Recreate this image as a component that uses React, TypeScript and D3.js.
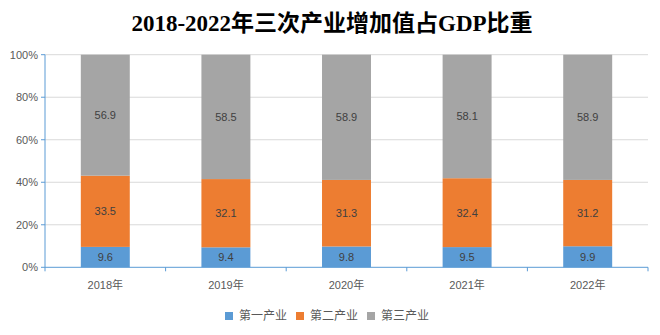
import React from "react";
import * as d3 from "d3";

const categories = ["2018年", "2019年", "2020年", "2021年", "2022年"];
const primary = [9.6, 9.4, 9.8, 9.5, 9.9];
const secondary = [33.5, 32.1, 31.3, 32.4, 31.2];
const tertiary = [56.9, 58.5, 58.9, 58.1, 58.9];
const seriesNames = ["第一产业", "第二产业", "第三产业"];
const colors = ["#5B9BD5", "#ED7D31", "#A5A5A5"];
const yTicks = [0, 20, 40, 60, 80, 100];

export default function App() {
  const W = 660, H = 335;
  const left = 45, right = 648, top = 54.7, bottom = 267.3;
  const x = d3.scaleBand().domain(categories).range([left, right]).paddingInner(0.594).paddingOuter(0.297);
  const y = d3.scaleLinear().domain([0, 100]).range([bottom, top]);
  const rows = categories.map((c, i) => ({ cat: c, s0: primary[i], s1: secondary[i], s2: tertiary[i] }));
  const stack = d3.stack<any>().keys(["s0", "s1", "s2"]).offset(d3.stackOffsetExpand);
  const stacked = stack(rows);
  const step = (right - left) / categories.length;
  const sans = "'Liberation Sans', 'Noto Sans CJK SC', sans-serif";
  const legendX = [225, 296, 367];
  return (
    <svg width={W} height={H} style={{ position: "absolute", left: 0, top: 0, background: "#fff" }}>
      <text x={332} y={31} textAnchor="middle" fontSize={23} fontWeight="bold"
        fontFamily="'Liberation Serif', 'Noto Sans CJK SC', serif" fill="#000">
        2018-2022年三次产业增加值占GDP比重
      </text>
      {yTicks.map(t => (
        <g key={t}>
          {t > 0 && <line x1={left} x2={right} y1={y(t)} y2={y(t)} stroke="#D9D9D9" strokeWidth={1} />}
          <line x1={left - 4} x2={left} y1={y(t)} y2={y(t)} stroke="#5B9BD5" strokeWidth={1} />
          <text x={38} y={y(t) + 4} textAnchor="end" fontSize={11} fill="#595959" fontFamily={sans}>{t}%</text>
        </g>
      ))}
      {stacked.map((layer, si) => (
        <g key={si}>
          {layer.map((d: any, i) => {
            const y0 = y(d[0] * 100), y1 = y(d[1] * 100);
            const val = [primary, secondary, tertiary][si][i];
            return (
              <g key={i}>
                <rect x={x(categories[i])} width={x.bandwidth()} y={y1} height={y0 - y1} fill={colors[si]} />
                <text x={x(categories[i])! + x.bandwidth() / 2} y={(y0 + y1) / 2 + 4} textAnchor="middle"
                  fontSize={11} fill="#404040" fontFamily={sans}>{val.toFixed(1)}</text>
              </g>
            );
          })}
        </g>
      ))}
      <line x1={left} x2={left} y1={top} y2={bottom} stroke="#5B9BD5" strokeWidth={1} />
      <line x1={left} x2={right} y1={bottom} y2={bottom} stroke="#5B9BD5" strokeWidth={1} />
      {d3.range(categories.length + 1).map(i => (
        <line key={i} x1={left + i * step} x2={left + i * step} y1={bottom} y2={bottom + 4} stroke="#5B9BD5" strokeWidth={1} />
      ))}
      {categories.map(c => (
        <text key={c} x={x(c)! + x.bandwidth() / 2} y={289} textAnchor="middle" fontSize={11} fill="#595959" fontFamily={sans}>{c}</text>
      ))}
      {seriesNames.map((n, i) => (
        <g key={n}>
          <rect x={legendX[i]} y={312} width={8} height={8} fill={colors[i]} />
          <text x={legendX[i] + 14} y={320} fontSize={12} fill="#595959" fontFamily={sans}>{n}</text>
        </g>
      ))}
    </svg>
  );
}
